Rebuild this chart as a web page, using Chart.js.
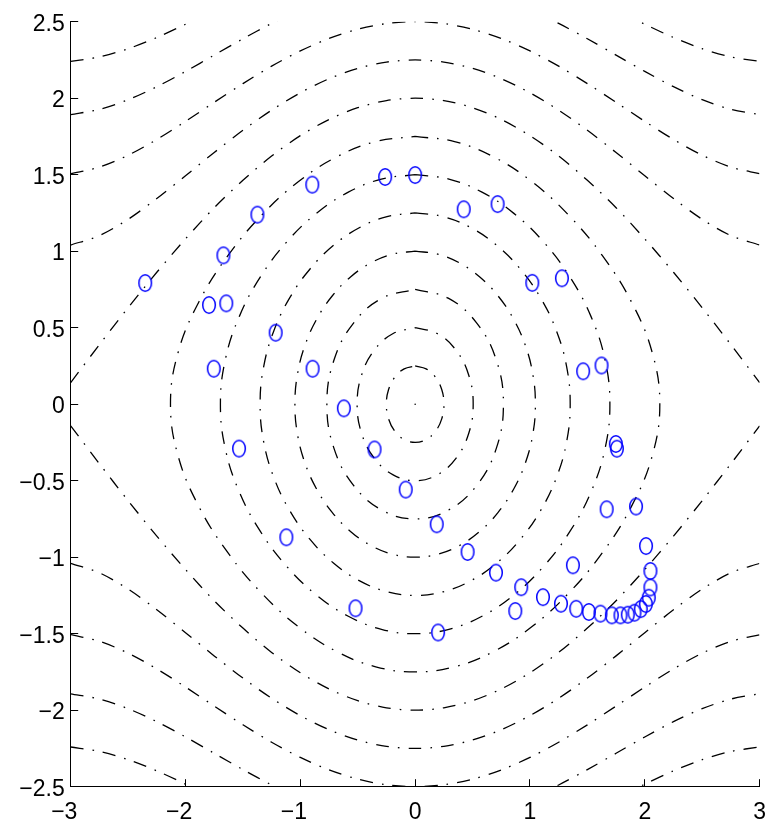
<!DOCTYPE html>
<html>
<head>
<meta charset="utf-8">
<script src="https://cdn.jsdelivr.net/npm/chart.js@4/dist/chart.umd.min.js"></script>
<style>
  html, body { margin: 0; padding: 0; background: #ffffff; }
  #wrap { width: 778px; height: 826px; }
</style>
</head>
<body>
<div id="wrap"><canvas id="c" width="778" height="826"></canvas></div>
<script>
// ---------- tick values / labels ----------
const xTickValues = [-3, -2, -1, 0, 1, 2, 3];
const xTickLabels = ['\u22123', '\u22122', '\u22121', '0', '1', '2', '3'];
const yTickValues = [-2.5, -2, -1.5, -1, -0.5, 0, 0.5, 1, 1.5, 2, 2.5];
const yTickLabels = ['\u22122.5', '\u22122', '\u22121.5', '\u22121', '\u22120.5', '0', '0.5', '1', '1.5', '2', '2.5'];

// ---------- scattered circle markers ----------
const pointsX = [-2.351, -1.670, -1.374, -0.896, -0.261, 0.000, 0.423, 0.718, 1.020, 1.278,
                 1.463, 1.623, 1.748, 1.757, 1.668, 1.924, 2.011, 2.049, 2.049, 2.035,
                 2.009, 1.965, 1.910, 1.852, 1.788, 1.713, 1.614, 1.513, 1.403, 1.270,
                 1.113, 0.924, 0.872, 0.704, 1.374, 0.457, 0.188, 0.200, -0.082, -0.354,
                 -0.621, -0.893, -1.215, -1.645, -1.795, -1.754, -1.534, -1.122, -0.519];
const pointsY = [0.792, 0.973, 1.239, 1.435, 1.485, 1.498, 1.274, 1.308, 0.793, 0.823,
                 0.215, 0.253, -0.260, -0.291, -0.687, -0.669, -0.927, -1.090, -1.198, -1.265,
                 -1.306, -1.339, -1.363, -1.376, -1.380, -1.380, -1.369, -1.358, -1.337, -1.304,
                 -1.261, -1.196, -1.352, -1.101, -1.053, -0.966, -0.785, -1.492, -0.558, -0.296,
                 -0.027, 0.232, 0.467, 0.659, 0.648, 0.232, -0.290, -0.870, -1.334];

// ---------- closed contours: first-quadrant points (x, y), top to right ----------
const ring1Q = [[0, 0.25], [0.0957, 0.231], [0.177, 0.1768], [0.2315, 0.0957], [0.2507, 0]];
const ring2Q = [[0, 0.5], [0.1916, 0.4619], [0.3555, 0.3536], [0.4662, 0.1913], [0.5054, 0]];
const ring3Q = [[0, 0.75], [0.288, 0.6929], [0.5367, 0.5303], [0.7076, 0.287], [0.7688, 0]];
const ring4Q = [[0, 1], [0.1955, 0.9808], [0.385, 0.9239], [0.563, 0.8315], [0.7227, 0.7071],
                [0.8575, 0.5556], [0.9604, 0.3827], [1.0251, 0.1951], [1.0472, 0]];
const ring5Q = [[0, 1.25], [0.2446, 1.226], [0.4829, 1.1548], [0.7092, 1.0394], [0.9155, 0.8839],
                [1.0929, 0.6945], [1.2312, 0.4784], [1.3197, 0.2439], [1.3503, 0]];
const ring6Q = [[0, 1.5], [0.2938, 1.4712], [0.5821, 1.3858], [0.8596, 1.2472], [1.118, 1.0607],
                [1.3466, 0.8334], [1.5311, 0.574], [1.653, 0.2927], [1.6961, 0]];
const ring7Q = [[0, 1.75], [0.3433, 1.7164], [0.6828, 1.6168], [1.0154, 1.4551], [1.3342, 1.2374],
                [1.6294, 0.9723], [1.8829, 0.6697], [2.0634, 0.3414], [2.1309, 0]];

// ---------- open contours: upper branch heights at |x| = 0, 0.25, ... 3 ----------
const branchAbsX = [0, 0.25, 0.5, 0.75, 1, 1.25, 1.5, 1.75, 2, 2.25, 2.5, 2.75, 3];
const branch8Y  = [2, 1.98439, 1.93783, 1.86102, 1.75517, 1.62221, 1.46338, 1.28422, 1.08061, 0.86235, 0.63065, 0.38910, 0.14148];
const branch9Y  = [2.25, 2.23614, 2.19492, 2.12741, 2.03546, 1.92176, 1.78996, 1.64499, 1.49339, 1.34393, 1.20839, 1.10177, 1.04044];
const branch10Y = [2.5, 2.48753, 2.45054, 2.39027, 2.30881, 2.20922, 2.09558, 1.97320, 1.84870, 1.73022, 1.62718, 1.54964, 1.50666];
const branch11Y = [2.75, 2.73867, 2.70512, 2.65064, 2.57742, 2.48860, 2.38830, 2.28167, 2.17490, 2.07513, 1.99003, 1.92715, 1.89275];
const branch12Y = [3, 2.98962, 2.95891, 2.90919, 2.84264, 2.76236, 2.67236, 2.57750, 2.48349, 2.39659, 2.32330, 2.26967, 2.24054];

const centerPoint = [[0, 0]];

// ---------- build library data from the arrays ----------
function closedFromQuadrant(q) {
  const pts = [];
  q.forEach(([x, y]) => pts.push({x: x, y: y}));                       // top -> right
  q.slice(0, -1).reverse().forEach(([x, y]) => pts.push({x: x, y: -y})); // right -> bottom
  q.slice(1).forEach(([x, y]) => pts.push({x: -x, y: -y}));              // bottom -> left
  q.slice(0, -1).reverse().forEach(([x, y]) => pts.push({x: -x, y: y})); // left -> top
  return pts;
}
function branchFromHalf(ys, sign) {
  const pts = [];
  for (let i = branchAbsX.length - 1; i > 0; i--) pts.push({x: -branchAbsX[i], y: sign * ys[i]});
  for (let i = 0; i < branchAbsX.length; i++) pts.push({x: branchAbsX[i], y: sign * ys[i]});
  return pts;
}

const dashStyle = [13, 9, 1.6, 9];
function contourDataset(data, tension) {
  return {
    data: data, showLine: true, pointRadius: 0, pointHoverRadius: 0,
    borderColor: '#000000', borderWidth: 1.3, borderDash: dashStyle,
    borderCapStyle: 'butt', tension: tension, fill: false
  };
}

// ellipse marker (markers in the picture are slightly taller than wide)
const marker = document.createElement('canvas');
marker.width = 18; marker.height = 22;
(function () {
  const c = marker.getContext('2d');
  c.strokeStyle = '#0000ff';
  c.lineWidth = 1.5;
  c.beginPath();
  c.ellipse(9, 11, 6.3, 8.3, 0, 0, Math.PI * 2);
  c.stroke();
})();

const datasets = [];
datasets.push({
  data: pointsX.map((x, i) => ({x: x, y: pointsY[i]})),
  showLine: false, pointStyle: marker, pointRadius: 8, pointHoverRadius: 8,
  borderColor: '#0000ff', backgroundColor: 'rgba(0,0,0,0)'
});
[ring1Q, ring2Q, ring3Q, ring4Q, ring5Q, ring6Q, ring7Q].forEach(q => {
  datasets.push(contourDataset(closedFromQuadrant(q), 0.4));
});
[branch8Y, branch9Y, branch10Y, branch11Y, branch12Y].forEach(ys => {
  datasets.push(contourDataset(branchFromHalf(ys, 1), 0.3));
  datasets.push(contourDataset(branchFromHalf(ys, -1), 0.3));
});
datasets.push({
  data: centerPoint.map(([x, y]) => ({x: x, y: y})),
  showLine: false, pointRadius: 0.8, pointStyle: 'circle',
  backgroundColor: '#000000', borderColor: '#000000', borderWidth: 0
});

const tickFont = {family: "'Liberation Sans', Arial, Helvetica, sans-serif", size: 23};

const tickMarks = {
  id: 'tickMarks',
  afterDatasetsDraw(chart) {
    const {ctx, chartArea: a, scales: {x, y}} = chart;
    ctx.save();
    ctx.strokeStyle = '#000000';
    ctx.lineWidth = 1;
    ctx.beginPath();
    x.ticks.forEach((t, i) => {
      const px = Math.floor(x.getPixelForTick(i)) + 0.5;
      ctx.moveTo(px, a.bottom);
      ctx.lineTo(px, a.bottom - 7.5);
    });
    y.ticks.forEach((t, i) => {
      const py = Math.floor(y.getPixelForTick(i)) + 0.5;
      ctx.moveTo(a.left, py);
      ctx.lineTo(a.left + 7.5, py);
    });
    ctx.stroke();
    ctx.restore();
  }
};

new Chart(document.getElementById('c'), {
  type: 'scatter',
  data: {datasets: datasets},
  options: {
    responsive: false,
    animation: false,
    devicePixelRatio: 1,
    events: [],
    layout: {padding: {left: 0, top: 21.7, right: 17.3, bottom: 0}},
    plugins: {legend: {display: false}, tooltip: {enabled: false}},
    scales: {
      x: {
        type: 'linear', position: 'bottom', min: -3, max: 3,
        afterBuildTicks: s => { s.ticks = xTickValues.map(v => ({value: v})); },
        afterFit: s => { s.height = 39.3; },
        grid: {display: false, drawTicks: false},
        border: {display: true, color: '#000000', width: 1},
        ticks: {
          color: '#000000', font: tickFont, padding: 12, maxRotation: 0, autoSkip: false,
          callback: (v, i) => {
            const s = xTickLabels[i];
            return s.charAt(0) === '\u2212' ? s + '\u2007' : s;
          }
        }
      },
      y: {
        type: 'linear', position: 'left', min: -2.5, max: 2.5,
        afterBuildTicks: s => { s.ticks = yTickValues.map(v => ({value: v})); },
        afterFit: s => { s.width = 70.7; },
        grid: {display: false, drawTicks: false},
        border: {display: true, color: '#000000', width: 1},
        ticks: {
          color: '#000000', font: tickFont, padding: 6, labelOffset: 2.5, autoSkip: false,
          callback: (v, i) => yTickLabels[i]
        }
      }
    }
  },
  plugins: [tickMarks]
});
</script>
</body>
</html>
